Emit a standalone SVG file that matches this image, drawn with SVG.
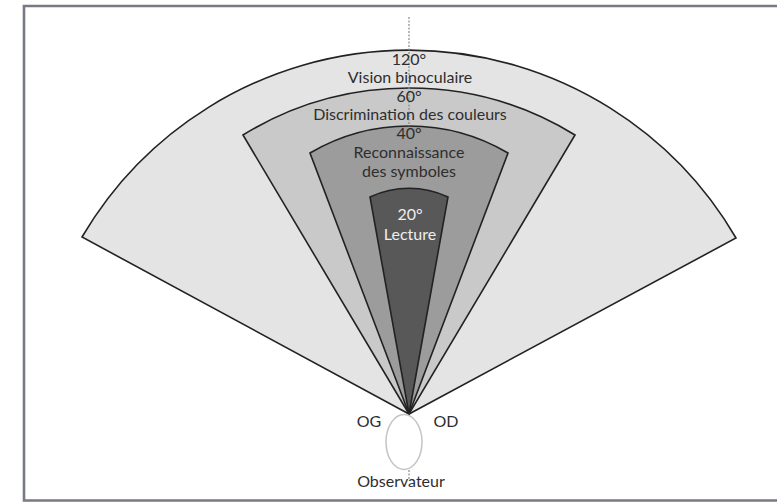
<svg xmlns="http://www.w3.org/2000/svg" width="777" height="502" viewBox="0 0 777 502">
<style>
.sec{stroke:#222;stroke-width:1.6;stroke-linejoin:miter}
.t{font-family:Lato,"Liberation Sans",sans-serif;font-size:16px;fill:#2e2e2e;text-anchor:middle}
.tl{fill:#eee}
.dot{stroke:#8a8a8a;stroke-width:1.2;stroke-dasharray:2 1.5;fill:none}
</style>
<rect width="777" height="502" fill="#fff"/>
<path d="M777,6 H24 V500.5 H777" fill="none" stroke="#777a84" stroke-width="2.6"/>
<g id="sector-120">
<path class="sec" d="M409,414 L82,237 A379,379 0 0 1 736,238 Z" fill="#e4e4e4"/>
</g>
<g id="sector-60">
<path class="sec" d="M409,414 L243,135 A317,317 0 0 1 575,135 Z" fill="#c9c9c9"/>
</g>
<g id="sector-40">
<path class="sec" d="M409,414 L310,153 A195,195 0 0 1 508,153 Z" fill="#9c9c9c"/>
</g>
<g id="sector-20">
<path class="sec" d="M409,414 L370,197 A92,92 0 0 1 448,197 Z" fill="#585858"/>
</g>
<g id="connectors">
<line class="dot" x1="409" y1="17" x2="409" y2="126"/>
<line class="dot" x1="409" y1="470" x2="409" y2="479"/>
</g>
<g id="labels-120">
<text class="t" x="409" y="65">120°</text>
<text class="t" x="410" y="83">Vision binoculaire</text>
</g>
<g id="labels-60">
<text class="t" x="409" y="101.5">60°</text>
<text class="t" x="410" y="120">Discrimination des couleurs</text>
</g>
<g id="labels-40">
<text class="t" x="409" y="139">40°</text>
<text class="t" x="409" y="158">Reconnaissance</text>
<text class="t" x="409" y="177">des symboles</text>
</g>
<g id="labels-20">
<text class="t tl" x="410" y="220">20°</text>
<text class="t tl" x="410" y="240">Lecture</text>
</g>
<g id="observer">
<ellipse cx="404" cy="442" rx="18" ry="27.5" fill="#fff" stroke="#c4c4c4" stroke-width="1.5"/>
<text class="t" x="369" y="427">OG</text>
<text class="t" x="446" y="427">OD</text>
<text class="t" x="401" y="487">Observateur</text>
</g>
</svg>
